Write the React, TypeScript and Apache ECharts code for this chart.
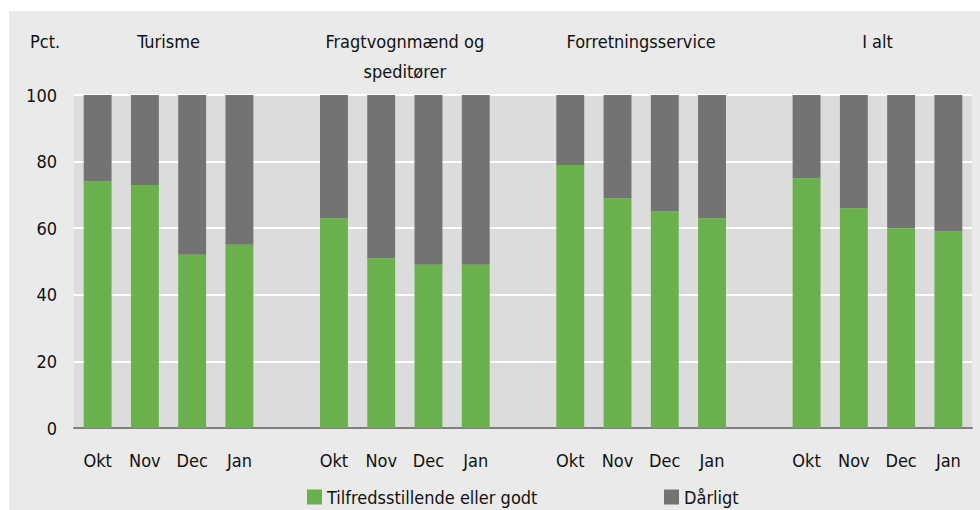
import React, { useEffect, useRef } from "react";
import * as echarts from "echarts";

const months = ["Okt", "Nov", "Dec", "Jan"];
const groups = ["Turisme", "Fragtvognmænd og\nspeditører", "Forretningsservice", "I alt"];
const goodValues = [
  [74, 73, 52, 55],
  [63, 51, 49, 49],
  [79, 69, 65, 63],
  [75, 66, 60, 59],
];
const badValues = [
  [26, 27, 48, 45],
  [37, 49, 51, 51],
  [21, 31, 35, 37],
  [25, 34, 40, 41],
];
const seriesNames = ["Tilfredsstillende eller godt", "Dårligt"];
const yTicks = { min: 0, max: 100, interval: 20 };
const unitLabel = "Pct.";

const FONT = "'DejaVu Sans Condensed', 'DejaVu Sans', sans-serif";
const FS = 18;
const GREEN = "#6ab04c";
const GRAY = "#737373";

export default function App() {
  const ref = useRef<HTMLDivElement>(null);
  useEffect(() => {
    if (!ref.current) return;
    const chart = echarts.init(ref.current, undefined, { renderer: "svg" });

    const categories: string[] = [];
    const good: (number | null)[] = [];
    const bad: (number | null)[] = [];
    const groupStart: number[] = [];
    groups.forEach((_, g) => {
      groupStart.push(categories.length);
      months.forEach((m, i) => {
        categories.push(m);
        good.push(goodValues[g][i]);
        bad.push(badValues[g][i]);
      });
      if (g < groups.length - 1) {
        categories.push("");
        good.push(null);
        bad.push(null);
      }
    });

    const legendText = { fontSize: FS, color: "#111", fontFamily: FONT };

    chart.setOption({
      animation: false,
      backgroundColor: "#eaeaea",
      textStyle: { fontFamily: FONT },
      grid: {
        left: 65,
        right: 8,
        top: 84,
        bottom: 82,
        show: true,
        backgroundColor: "#dcdcdc",
        borderWidth: 0,
      },
      legend: [
        {
          data: [seriesNames[0]],
          left: 298,
          top: 477,
          padding: 0,
          itemWidth: 15,
          itemHeight: 15,
          itemGap: 0,
          icon: "rect",
          textStyle: legendText,
        },
        {
          data: [seriesNames[1]],
          left: 655,
          top: 477,
          padding: 0,
          itemWidth: 15,
          itemHeight: 15,
          itemGap: 0,
          icon: "rect",
          textStyle: legendText,
        },
      ],
      xAxis: {
        type: "category",
        data: categories,
        axisTick: { show: false },
        axisLine: { show: true, lineStyle: { color: "#7f7f7f", width: 2 } },
        axisLabel: {
          interval: 0,
          fontSize: FS,
          color: "#111",
          margin: 23,
          fontFamily: FONT,
        },
        splitLine: { show: false },
      },
      yAxis: {
        type: "value",
        min: yTicks.min,
        max: yTicks.max,
        interval: yTicks.interval,
        axisLine: { show: false },
        axisTick: { show: false },
        axisLabel: { fontSize: FS, color: "#111", margin: 17, fontFamily: FONT },
        splitLine: { show: true, lineStyle: { color: "#ffffff", width: 2 } },
      },
      series: [
        {
          name: seriesNames[0],
          type: "bar",
          stack: "s",
          data: good,
          barWidth: "59%",
          itemStyle: { color: GREEN },
        },
        {
          name: seriesNames[1],
          type: "bar",
          stack: "s",
          data: bad,
          barWidth: "59%",
          itemStyle: { color: GRAY },
        },
      ],
    });

    const titles = groups.map((name, g) => {
      const x1 = chart.convertToPixel({ xAxisIndex: 0 }, groupStart[g] + 1) as number;
      const x2 = chart.convertToPixel({ xAxisIndex: 0 }, groupStart[g] + 2) as number;
      const multi = name.includes("\n");
      return {
        type: "text",
        x: (x1 + x2) / 2,
        y: multi ? 45 : 30,
        style: {
          text: name,
          fontSize: FS,
          fontFamily: FONT,
          fill: "#111",
          align: "center",
          verticalAlign: "middle",
          lineHeight: 30,
        },
      };
    });
    chart.setOption({
      graphic: [
        {
          type: "text",
          x: 21,
          y: 30,
          style: {
            text: unitLabel,
            fontSize: FS,
            fontFamily: FONT,
            fill: "#111",
            verticalAlign: "middle",
          },
        },
        ...titles,
      ],
    });

    return () => chart.dispose();
  }, []);
  return (
    <div
      ref={ref}
      style={{ position: "absolute", left: 9, top: 11, width: 971, height: 499 }}
    />
  );
}
